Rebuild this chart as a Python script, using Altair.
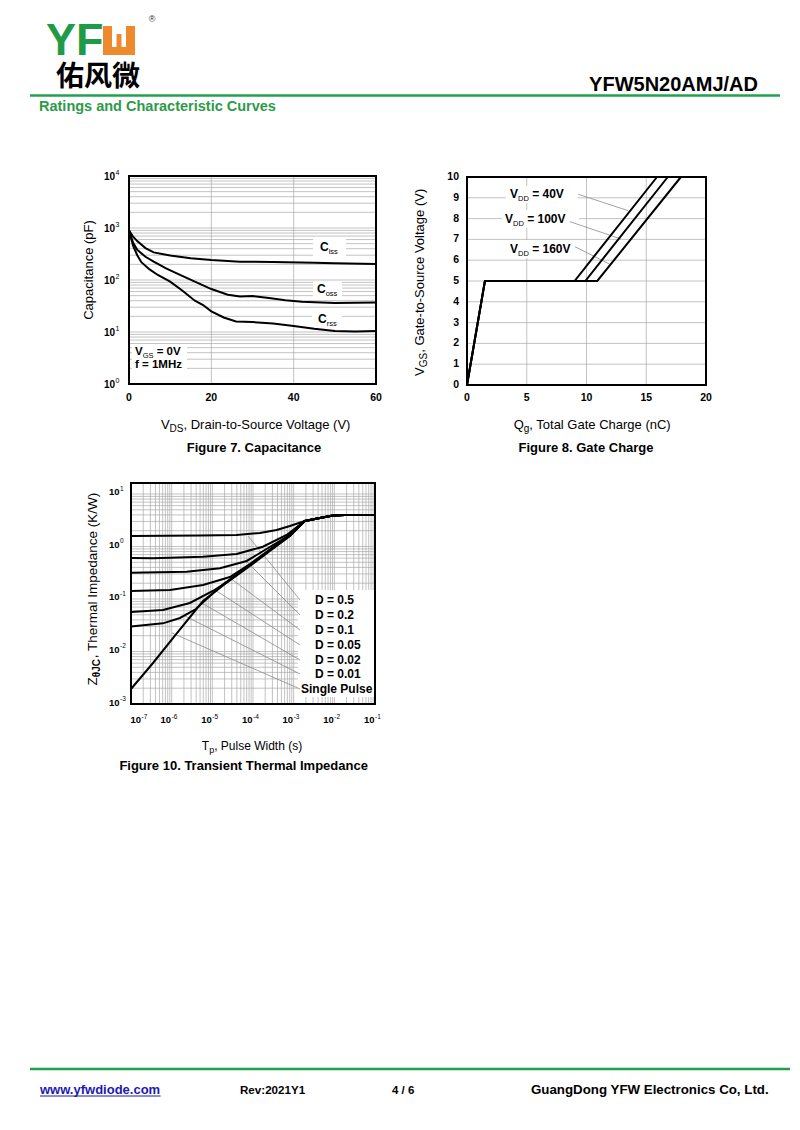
import altair as alt
import pandas as pd

FONT = "Liberation Sans"
CJK = "Noto Sans CJK SC"
GRID = "#a9a9a9"
LEAD = "#8a8a8a"
GREEN = "#22a050"

# ---------------- data ----------------
# Figure 7 - capacitance (pF) vs VDS (V)
cap_vds_iss = [0, 1, 2, 4, 6, 10, 15, 20, 27, 35, 45, 50, 60]
cap_ciss = [900, 680, 560, 410, 340, 295, 262, 242, 225, 222, 215, 210, 204]
cap_vds_oss = [0, 1, 2, 4, 6, 9, 12, 16, 20, 24, 27, 30, 34, 38, 42, 50, 60]
cap_coss = [900, 520, 380, 280, 225, 168, 130, 93, 67, 52, 48, 49, 45, 41, 38, 36, 37]
cap_vds_rss = [0, 1, 2, 3, 5, 7, 10, 13, 16, 18, 20, 23, 26, 30, 35, 40, 45, 50, 55, 60]
cap_crss = [900, 450, 300, 220, 160, 125, 93, 62, 40, 33, 25, 19, 16, 15.5, 14.5, 13, 11.5, 10.4, 10.2, 10.4]

# Figure 8 - gate charge
gc_vgs = [0, 5, 5, 10]
gc_q_40 = [0, 1.5, 9.0, 15.9]
gc_q_100 = [0, 1.5, 9.9, 16.8]
gc_q_160 = [0, 1.5, 10.9, 17.9]

# Figure 10 - transient thermal impedance
zt_tail_t = [1.88e-3, 4.4e-3, 9.2e-3, 0.018, 0.1]
zt_tail_z = [3.06, 3.49, 3.89, 3.98, 3.98]
zt_d05_t = [1e-7, 4.95e-6, 3.95e-5, 1.48e-4, 3.8e-4, 8.1e-4]
zt_d05_z = [1.585, 1.62, 1.66, 1.81, 2.06, 2.46]
zt_d02_t = [1e-7, 3.48e-7, 5.9e-6, 3.95e-5, 1.75e-4, 6.7e-4]
zt_d02_z = [0.604, 0.596, 0.640, 0.719, 0.99, 1.66]
zt_d01_t = [1e-7, 2.34e-6, 1.54e-5, 7.0e-5, 1.96e-4, 6.7e-4]
zt_d01_z = [0.317, 0.331, 0.385, 0.530, 0.857, 1.52]
zt_d005_t = [1e-7, 9.1e-7, 5.9e-6, 2.7e-5, 8.4e-5, 2.6e-4, 8.1e-4]
zt_d005_z = [0.142, 0.148, 0.185, 0.262, 0.464, 0.877, 1.66]
zt_d002_t = [1e-7, 6.1e-7, 2.8e-6, 1.03e-5, 2.7e-5, 8.4e-5, 2.6e-4, 8.1e-4]
zt_d002_z = [0.0565, 0.0616, 0.0839, 0.142, 0.230, 0.445, 0.857, 1.63]
zt_d001_t = [1e-7, 6.1e-7, 1.6e-6, 3.95e-6, 8.7e-6, 2.04e-5, 8.4e-5, 2.6e-4, 8.1e-4]
zt_d001_z = [0.0299, 0.0344, 0.0435, 0.0645, 0.114, 0.202, 0.445, 0.85, 1.62]
zt_sp_t = [1e-7, 3.48e-7, 1.35e-6, 5.9e-6, 2.04e-5, 8.4e-5, 2.6e-4, 8.1e-4]
zt_sp_z = [0.00193, 0.00604, 0.0225, 0.0916, 0.193, 0.426, 0.82, 1.585]
zt_labels = ["D = 0.5", "D = 0.2", "D = 0.1", "D = 0.05", "D = 0.02", "D = 0.01"]

# tick labels
f7_xticks = [0, 20, 40, 60]
f7_yexp = [0, 1, 2, 3, 4]
f8_xticks = [0, 5, 10, 15, 20]
f8_yticks = [0, 1, 2, 3, 4, 5, 6, 7, 8, 9, 10]
f10_xexp = [-7, -6, -5, -4, -3, -2, -1]
f10_yexp = [-3, -2, -1, 0, 1]

# ---------------- text metrics (Arial / Liberation Sans) ----------------
_REG = {' ': 278, '(': 333, ')': 333, ',': 278, '-': 333, '.': 278, '/': 278, ':': 278, '=': 584, 'θ': 556}
_BOLD = {' ': 278, '(': 333, ')': 333, ',': 278, '-': 333, '.': 278, '/': 278, ':': 333, '=': 584, 'θ': 611}
for _c in "0123456789":
    _REG[_c] = 556
    _BOLD[_c] = 556
_REG.update(dict(zip("ABCDEFGHIJKLMNOPQRSTUVWXYZ",
                     [667, 667, 722, 722, 667, 611, 778, 722, 278, 500, 667, 556, 833, 722, 778, 667, 778, 722, 667, 611, 722, 667, 944, 667, 667, 611])))
_REG.update(dict(zip("abcdefghijklmnopqrstuvwxyz",
                     [556, 556, 500, 556, 556, 278, 556, 556, 222, 222, 500, 222, 833, 556, 556, 556, 556, 333, 500, 278, 556, 500, 722, 500, 500, 500])))
_BOLD.update(dict(zip("ABCDEFGHIJKLMNOPQRSTUVWXYZ",
                      [722, 722, 722, 722, 667, 611, 778, 722, 278, 556, 722, 611, 833, 722, 778, 667, 778, 722, 667, 611, 722, 667, 944, 667, 667, 611])))
_BOLD.update(dict(zip("abcdefghijklmnopqrstuvwxyz",
                      [556, 611, 556, 611, 556, 333, 611, 611, 278, 278, 556, 278, 889, 611, 611, 611, 611, 389, 556, 333, 611, 556, 778, 556, 556, 500])))


def tw(s, size, bold=False):
    tab = _BOLD if bold else _REG
    return sum(tab.get(c, 556) for c in s) / 1000.0 * size


def P(v):
    return v - 8


ONE = pd.DataFrame({"d": [0]})
layers = []


def T(x, y, s, size, bold=False, color="black", align="left", angle=0, dx=0.0, dy=0.0,
      font=FONT, baseline="alphabetic"):
    kw = dict(text=s, fontSize=size, font=font, fontWeight="bold" if bold else "normal",
              color=color, align=align, baseline=baseline)
    if dx:
        kw["dx"] = dx
    if dy:
        kw["dy"] = dy
    if angle:
        kw["angle"] = angle
    return alt.Chart(ONE).mark_text(**kw).encode(x=alt.value(P(x)), y=alt.value(P(y)))


def rich(x, y, pieces, align="left", angle=0, color="black"):
    total = sum(tw(t, s, b) for t, s, b, _ in pieces)
    cur = {"left": 0.0, "center": -total / 2, "right": -total}[align]
    out = []
    for t, s, b, d in pieces:
        st = t.lstrip(" ")
        cur += tw(t[: len(t) - len(st)], s, b)
        out.append(T(x, y, st, s, b, color=color, angle=angle, dx=cur, dy=d))
        cur += tw(st, s, b)
    return out


def R(x0, x1, y0, y1, fill="white"):
    return alt.Chart(ONE).mark_rect(color=fill).encode(
        x=alt.value(P(x0)), x2=alt.value(P(x1)), y=alt.value(P(y0)), y2=alt.value(P(y1)))


def L(x0, y0, x1, y1, color=LEAD, w=0.8):
    return alt.Chart(ONE).mark_rule(color=color, strokeWidth=w).encode(
        x=alt.value(P(x0)), x2=alt.value(P(x1)), y=alt.value(P(y0)), y2=alt.value(P(y1)))


SC = {
    7: dict(x=dict(type="linear", domain=[0, 60], range=[P(129), P(376)], nice=False, zero=False),
            y=dict(type="log", domain=[1, 1e4], range=[P(384), P(176)], nice=False)),
    8: dict(x=dict(type="linear", domain=[0, 20], range=[P(467), P(706)], nice=False, zero=False),
            y=dict(type="linear", domain=[0, 10], range=[P(385), P(177)], nice=False, zero=False)),
    10: dict(x=dict(type="log", domain=[1e-7, 0.1], range=[P(131), P(375)], nice=False),
             y=dict(type="log", domain=[1e-3, 16.2], range=[P(704), P(483)], nice=False)),
}


def X(fig, field):
    return alt.X(f"{field}:Q", scale=alt.Scale(**SC[fig]["x"]), axis=None)


def Y(fig, field):
    return alt.Y(f"{field}:Q", scale=alt.Scale(**SC[fig]["y"]), axis=None)


def grid(fig, xs, ys):
    xd, yd = SC[fig]["x"]["domain"], SC[fig]["y"]["domain"]
    out = []
    if ys:
        df = pd.DataFrame({"y": ys, "x0": xd[0], "x1": xd[1]})
        out.append(alt.Chart(df).mark_rule(color=GRID, strokeWidth=0.7).encode(
            x=X(fig, "x0"), x2="x1:Q", y=Y(fig, "y")))
    if xs:
        df = pd.DataFrame({"x": xs, "y0": yd[0], "y1": yd[1]})
        out.append(alt.Chart(df).mark_rule(color=GRID, strokeWidth=0.7).encode(
            x=X(fig, "x"), y=Y(fig, "y0"), y2="y1:Q"))
    return out


def frame(fig):
    xd, yd = SC[fig]["x"]["domain"], SC[fig]["y"]["domain"]
    df = pd.DataFrame({"x0": [xd[0]], "x1": [xd[1]], "y0": [yd[0]], "y1": [yd[1]]})
    return alt.Chart(df).mark_rect(fill="transparent", stroke="black", strokeWidth=2).encode(
        x=X(fig, "x0"), x2="x1:Q", y=Y(fig, "y0"), y2="y1:Q")


def curves(fig, series):
    rows = []
    for name, xs, ys in series:
        for a, b in zip(xs, ys):
            rows.append({"s": name, "x": a, "y": b})
    df = pd.DataFrame(rows)
    return alt.Chart(df).mark_line(color="black", strokeWidth=2).encode(
        x=X(fig, "x"), y=Y(fig, "y"), detail="s:N")


# ---------------- header ----------------
layers.append(T(46, 55, "YF", 45, True, color="#1f9b48", baseline="alphabetic"))
layers += [R(103, 112, 26, 55, "#ee8a2e"), R(126, 135, 26, 55, "#ee8a2e"),
           R(103, 135, 47, 55, "#ee8a2e"), R(116.5, 121.5, 34, 48, "#ee8a2e")]
layers.append(T(152, 22, "®", 9, color="#333333", align="center"))
layers.append(T(98, 86, "佑风微", 28, True, align="center", font=CJK))
layers.append(L(30, 95.5, 780, 95.5, GREEN, 2.5))
layers.append(T(39, 111, "Ratings and Characteristic Curves", 14.5, True, color="#2e9a48"))
layers.append(T(758, 91, "YFW5N20AMJ/AD", 20, True, align="right"))

# ---------------- Figure 7 ----------------
h7 = [k * 10 ** n for n in range(0, 4) for k in range(1, 10) if 1 < k * 10 ** n < 1e4]
layers += grid(7, [20, 40], h7)
layers += [R(313, 346, 238, 257), R(313, 342, 281.5, 297), R(312, 342, 311.5, 328), R(132, 187, 344, 372)]
layers.append(curves(7, [("Ciss", cap_vds_iss, cap_ciss), ("Coss", cap_vds_oss, cap_coss),
                         ("Crss", cap_vds_rss, cap_crss)]))
layers.append(frame(7))
layers += rich(320, 251, [("C", 12, True, 0), ("iss", 7.5, False, 3)])
layers += rich(317, 292.6, [("C", 12, True, 0), ("oss", 7.5, False, 3)])
layers += rich(318, 322.6, [("C", 12, True, 0), ("rss", 7.5, False, 3)])
layers += rich(135, 355, [("V", 11.5, True, 0), ("GS", 7.5, False, 2.5), (" = 0V", 11.5, True, 0)])
layers.append(T(135, 368, "f = 1MHz", 11.5, True))
df = pd.DataFrame({"v": f7_xticks, "lab": [str(v) for v in f7_xticks]})
layers.append(alt.Chart(df).mark_text(font=FONT, fontSize=10.5, fontWeight="bold", baseline="middle").encode(
    x=X(7, "v"), y=alt.value(P(398)), text="lab:N"))
df = pd.DataFrame({"v": [10.0 ** e for e in f7_yexp], "b": "10", "e": [str(e) for e in f7_yexp]})
layers.append(alt.Chart(df).mark_text(font=FONT, fontSize=10, fontWeight="bold", align="left",
                                      baseline="middle", dy=1).encode(
    x=alt.value(P(104)), y=Y(7, "v"), text="b:N"))
layers.append(alt.Chart(df).mark_text(font=FONT, fontSize=7, align="left", baseline="middle", dy=-3).encode(
    x=alt.value(P(104 + tw("10", 10, True) + 0.5)), y=Y(7, "v"), text="e:N"))
layers += rich(256, 428.5, [("V", 13, False, 0), ("DS", 10, False, 3),
                            (", Drain-to-Source Voltage (V)", 13, False, 0)], align="center")
layers += rich(254, 451.5, [("Figure 7. Capacitance", 13, True, 0)], align="center")
layers += rich(93, 270, [("Capacitance (pF)", 13, False, 0)], align="center", angle=270)

# ---------------- Figure 8 ----------------
layers += grid(8, [5, 10, 15], [1, 2, 3, 4, 5, 6, 7, 8, 9])
layers += [R(506, 578, 186, 203), R(502, 579, 210, 228), R(507, 579, 240, 258)]
layers += [L(578.3, 194.3, 628.3, 210.7), L(570, 221.7, 621, 239), L(575, 246.7, 609.3, 264)]
layers.append(curves(8, [("40V", gc_q_40, gc_vgs), ("100V", gc_q_100, gc_vgs), ("160V", gc_q_160, gc_vgs)]))
layers.append(frame(8))
layers += rich(510, 197.6, [("V", 12, True, 0), ("DD", 7.5, False, 3), (" = 40V", 12, True, 0)])
layers += rich(505, 222.6, [("V", 12, True, 0), ("DD", 7.5, False, 3), (" = 100V", 12, True, 0)])
layers += rich(510, 252.6, [("V", 12, True, 0), ("DD", 7.5, False, 3), (" = 160V", 12, True, 0)])
df = pd.DataFrame({"v": f8_xticks, "lab": [str(v) for v in f8_xticks]})
layers.append(alt.Chart(df).mark_text(font=FONT, fontSize=10.5, fontWeight="bold", baseline="middle").encode(
    x=X(8, "v"), y=alt.value(P(398)), text="lab:N"))
df = pd.DataFrame({"v": f8_yticks, "lab": [str(v) for v in f8_yticks]})
layers.append(alt.Chart(df).mark_text(font=FONT, fontSize=10.5, fontWeight="bold", baseline="middle",
                                      align="right").encode(
    x=alt.value(P(459)), y=Y(8, "v"), text="lab:N"))
layers += rich(593, 428.5, [("Q", 13, False, 0), ("g", 10, False, 3),
                            (", Total Gate Charge (nC)", 13, False, 0)], align="center")
layers += rich(586, 451.5, [("Figure 8. Gate Charge", 13, True, 0)], align="center")
layers += rich(424, 282, [("V", 13, False, 0), ("GS", 10, False, 3),
                          (", Gate-to-Source Voltage (V)", 13, False, 0)], align="center", angle=270)

# ---------------- Figure 10 ----------------
v10 = [k * 10.0 ** n for n in range(-7, -1) for k in range(1, 10) if 1e-7 < k * 10.0 ** n < 0.1]
h10 = [k * 10.0 ** n for n in range(-3, 2) for k in range(1, 10) if 1e-3 < k * 10.0 ** n < 16.2]
layers += grid(10, v10, h10)
layers.append(R(298, 374, 590, 697))
layers += [L(248, 536, 300, 600), L(245, 560, 300, 615), L(230, 578, 300, 630), L(215, 590, 300, 645),
           L(200, 602, 300, 660), L(185, 616, 300, 674), L(172, 633, 300, 689)]
ser = [("0.5", zt_d05_t, zt_d05_z), ("0.2", zt_d02_t, zt_d02_z), ("0.1", zt_d01_t, zt_d01_z),
       ("0.05", zt_d005_t, zt_d005_z), ("0.02", zt_d002_t, zt_d002_z), ("0.01", zt_d001_t, zt_d001_z),
       ("single", zt_sp_t, zt_sp_z)]
layers.append(curves(10, [(n, t + zt_tail_t, z + zt_tail_z) for n, t, z in ser]))
layers.append(frame(10))
for i, lab in enumerate(zt_labels):
    layers.append(T(315, 604.3 + 14.8 * i, lab, 12, True))
layers.append(T(301, 693.3, "Single Pulse", 12, True))
BS, ES = 9.5, 6.5
bw = tw("10", BS, True)
df = pd.DataFrame({"v": [10.0 ** e for e in f10_xexp], "b": "10", "e": [str(e) for e in f10_xexp]})
first = df.iloc[:1]
rest = df.iloc[1:]
for part, off in ((first, 8.0), (rest, -2.5)):
    layers.append(alt.Chart(part).mark_text(font=FONT, fontSize=BS, fontWeight="bold", align="right",
                                            baseline="middle", dx=off + 2.0).encode(
        x=X(10, "v"), y=alt.value(P(720)), text="b:N"))
    layers.append(alt.Chart(part).mark_text(font=FONT, fontSize=ES, align="left", baseline="middle",
                                            dx=off + 2.5, dy=-3.5).encode(
        x=X(10, "v"), y=alt.value(P(720)), text="e:N"))
df = pd.DataFrame({"v": [10.0 ** e for e in f10_yexp], "b": "10", "e": [str(e) for e in f10_yexp]})
layers.append(alt.Chart(df).mark_text(font=FONT, fontSize=BS, fontWeight="bold", align="left",
                                      baseline="middle", dy=-1.5).encode(
    x=alt.value(P(109)), y=Y(10, "v"), text="b:N"))
layers.append(alt.Chart(df).mark_text(font=FONT, fontSize=ES, align="left", baseline="middle", dy=-5).encode(
    x=alt.value(P(109 + bw + 0.5)), y=Y(10, "v"), text="e:N"))
layers += rich(252, 749.5, [("T", 12, False, 0), ("p", 9, False, 3), (", Pulse Width (s)", 12, False, 0)],
               align="center")
layers += rich(244, 769.5, [("Figure 10. Transient Thermal Impedance", 13, True, 0)], align="center")
layers += rich(97, 589, [("Z", 13.5, False, 0), ("θJC", 10, True, 3), (", Thermal Impedance (K/W)", 13.5, False, 0)],
               align="center", angle=270)

# ---------------- footer ----------------
layers.append(L(30, 1069, 790, 1069, GREEN, 2.5))
layers.append(T(40, 1094, "www.yfwdiode.com", 13, True, color="#1a1ab0"))
layers.append(L(40, 1096, 40 + tw("www.yfwdiode.com", 13, True), 1096, "#1a1ab0", 1))
layers.append(T(240, 1094, "Rev:2021Y1", 11.6, True))
layers.append(T(392, 1094, "4 / 6", 11.5, True))
layers.append(T(531, 1094, "GuangDong YFW Electronics Co, Ltd.", 13.3, True))

chart = (
    alt.layer(*layers)
    .resolve_scale(x="independent", y="independent")
    .properties(width=784, height=1110, padding=0, autosize=alt.AutoSizeParams(type="none"), background="white")
    .configure_view(strokeWidth=0)
)
chart.save("out.html", embed_options={"renderer": "svg", "actions": False})
